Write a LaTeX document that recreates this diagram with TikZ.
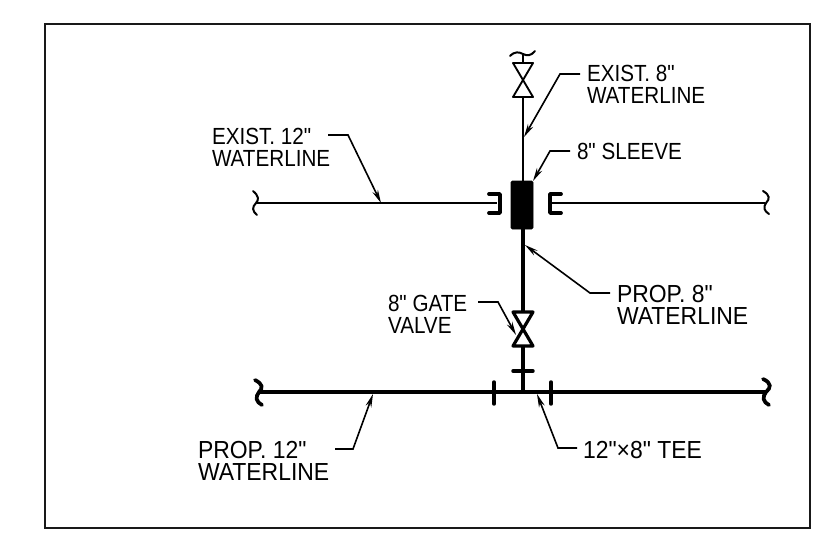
\documentclass[tikz,border=0pt]{standalone}
\usepackage{fontspec}
\newfontfamily\cadfont[FakeStretch=0.885]{Liberation Sans}
\newfontfamily\cadwide[FakeStretch=0.93]{Liberation Sans}
\usetikzlibrary{arrows.meta}
\tikzset{
  x=0.75pt,y=-0.75pt,
  label text/.style={inner sep=0pt,outer sep=0pt,align=left,anchor=north west,font=\cadfont\fontsize{17.5}{16.5}\selectfont},
  large text/.style={label text,font=\cadwide\fontsize{18.5}{17}\selectfont},
  thin pipe/.style={line width=1.6pt},
  thick pipe/.style={line width=2.6pt},
  leader/.style={line width=1.2pt,-{Stealth[length=10pt,width=4.5pt]}},
  breakthin/.style={line width=1.5pt,line cap=round},
  breakthick/.style={line width=2.8pt,line cap=round},
  tick mark/.style={line width=2.6pt,line cap=round},
}
\begin{document}
\begin{tikzpicture}
\useasboundingbox (0,0) rectangle (816,542);
\draw[line width=1.8pt,black!90] (45,24) rectangle (810,528);
% junction coordinates
\coordinate (vtop) at (523,63);
\coordinate (vtopb) at (523,97);
\coordinate (leftE) at (256,203);
\coordinate (rightE) at (765,203);
\coordinate (leftP) at (259,392);
\coordinate (rightP) at (765,392);
\coordinate (tee) at (523,392);
% existing 8 in
\node[draw,fill=black,minimum width=16.5pt,minimum height=36pt,inner sep=0pt,rounded corners=1pt] (sleeve) at (522,205) {};
\draw[thin pipe] (vtopb) -- (sleeve.north -| vtopb);
\draw[line width=1.4pt,line join=round] (513,63) -- (533,63) -- (513,97) -- (533,97) -- cycle;
\draw[thin pipe] (523,54) -- (vtop);
\draw[breakthin] (510,56) .. controls (515,51) and (519,52) .. (523,54) .. controls (527,56) and (531,56) .. (535,51);
% caps and existing 12 in
\draw[thin pipe] (leftE) -- (497,203);
\draw[line width=2.8pt,line cap=round,line join=round] (489,194) -- (500,194) -- (500,213) -- (489,213);
\draw[thin pipe] (rightE) -- (552,203);
\draw[line width=2.8pt,line cap=round,line join=round] (561,194) -- (550,194) -- (550,213) -- (561,213);
\draw[breakthin] (253,191) .. controls (259,196) and (259,200) .. (256,203) .. controls (252,207) and (252,211) .. (257,215);
\draw[breakthin] (763,191) .. controls (770,195) and (770,199) .. (766,203) .. controls (763,207) and (764,211) .. (769,214);
% proposed 8 in
\draw[thick pipe] (sleeve.south -| tee) -- (523,312);
\draw[line width=2.4pt,line join=round] (513,312) -- (533,312) -- (513,346) -- (533,346) -- cycle;
\draw[thick pipe] (523,346) -- (tee);
\draw[tick mark] (513,371) -- (533,371);
% proposed 12 in
\draw[thick pipe] (leftP) -- (rightP);
\draw[breakthick] (255,380) .. controls (263,384) and (263,388) .. (259,392) .. controls (255,397) and (256,402) .. (262,405);
\draw[breakthick] (763,379) .. controls (772,383) and (771,388) .. (766,392) .. controls (762,397) and (763,402) .. (769,405);
\draw[tick mark] (494,382) -- (494,404);
\draw[tick mark] (551,382) -- (551,404);
% labels
\node[label text] (e12) at (212,128) {EXIST. 12"\\WATERLINE};
\node[label text] (e8) at (587,65) {EXIST. 8"\\WATERLINE};
\node[label text] (sl) at (577,143) {8" SLEEVE};
\node[large text] (p8) at (617,285) {PROP. 8"\\WATERLINE};
\node[label text] (gv) at (388,295) {8" GATE\\VALVE};
\node[large text] (p12) at (198,441) {PROP. 12"\\WATERLINE};
\node[large text] (tt) at (583,441) {12"×8" TEE};
% leaders
\coordinate (e12a) at (328,135); \coordinate (e12b) at (348,135); \coordinate (e12t) at (381,203);
\draw[leader] (e12a) -- (e12b) -- (e12t);
\coordinate (e8a) at (580,74); \coordinate (e8b) at (560,74); \coordinate (e8t) at (524,137);
\draw[leader] (e8a) -- (e8b) -- (e8t);
\coordinate (sla) at (570,151); \coordinate (slb) at (550,151); \coordinate (slt) at (533,181);
\draw[leader] (sla) -- (slb) -- (slt);
\coordinate (p8a) at (610,293); \coordinate (p8b) at (590,293); \coordinate (p8t) at (525,245);
\draw[leader] (p8a) -- (p8b) -- (p8t);
\coordinate (gva) at (478,302); \coordinate (gvb) at (498,302); \coordinate (gvt) at (516,335);
\draw[leader] (gva) -- (gvb) -- (gvt);
\coordinate (p12a) at (335,449); \coordinate (p12b) at (353,449); \coordinate (p12t) at (373,394);
\draw[leader] (p12a) -- (p12b) -- (p12t);
\coordinate (tta) at (577,448); \coordinate (ttb) at (558,448); \coordinate (ttt) at (537,394);
\draw[leader] (tta) -- (ttb) -- (ttt);
\end{tikzpicture}
\end{document}
